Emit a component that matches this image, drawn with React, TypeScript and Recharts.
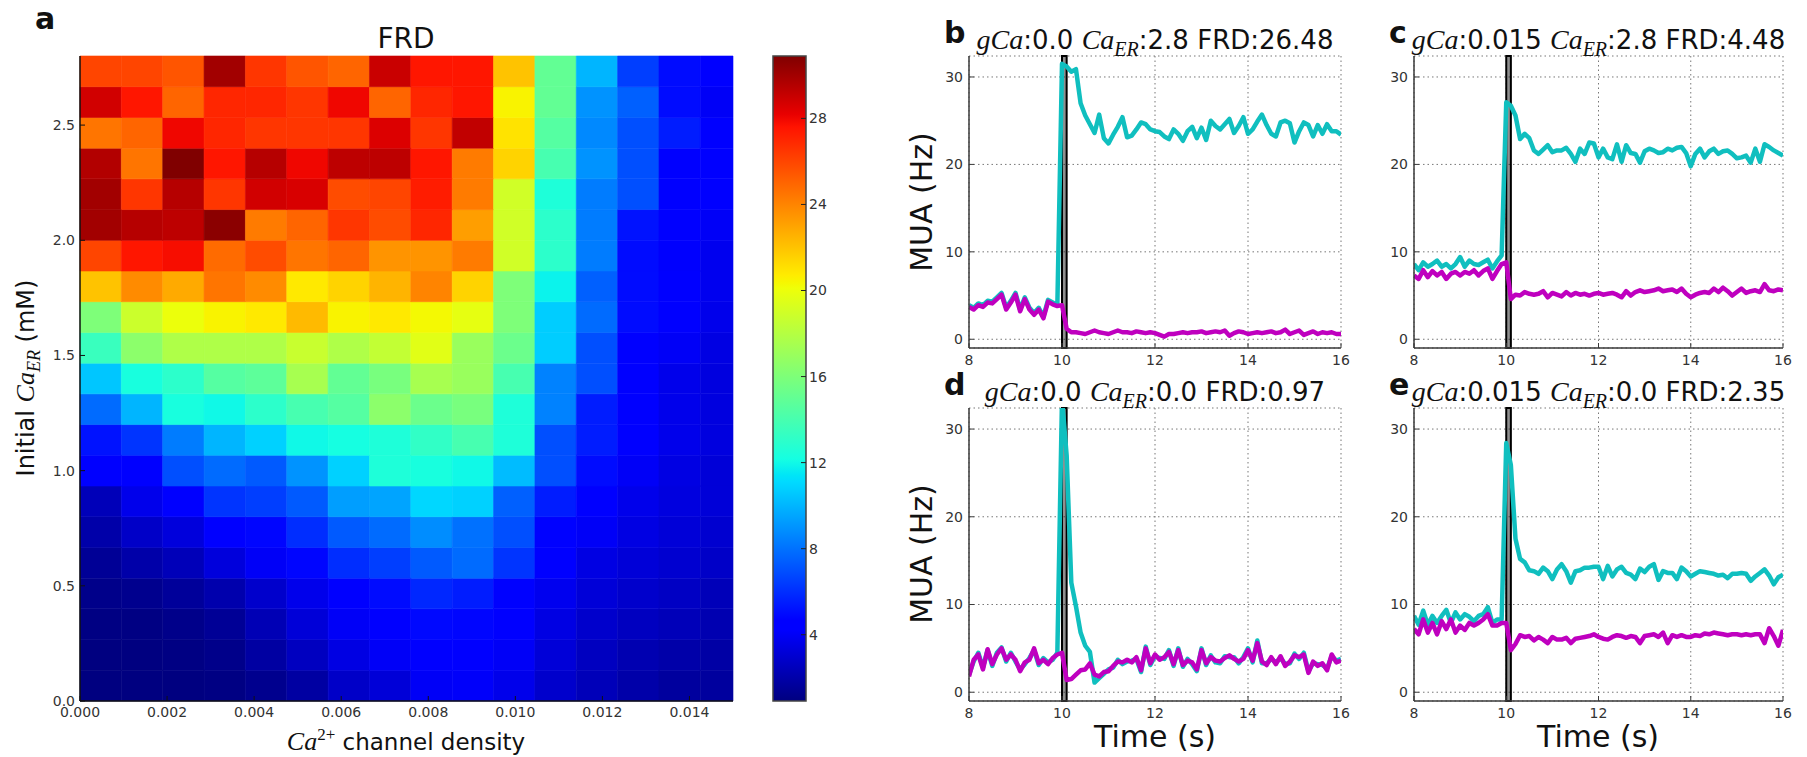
import React from 'react';
import {
  ComposedChart,
  LineChart,
  Line,
  XAxis,
  YAxis,
  CartesianGrid,
  ReferenceArea,
} from 'recharts';

// FRD heat map: one row per initial Ca_ER step (bottom = 0 mM, top = 2.8 mM),
// one column per Ca2+ channel density step (0 .. 0.015)
const FRD_ROWS: number[][] = [
  [0.9, 0.9, 0.9, 1.0, 1.3, 1.8, 2.8, 3.2, 4.0, 4.1, 3.7, 2.9, 2.4, 2.0, 1.7, 1.7],
  [0.9, 0.9, 1.0, 1.2, 1.8, 2.6, 3.5, 4.0, 4.3, 4.3, 4.0, 3.2, 2.6, 2.2, 2.0, 1.9],
  [1.0, 1.0, 1.2, 1.5, 2.3, 3.2, 4.0, 4.5, 4.9, 4.8, 4.3, 3.5, 2.9, 2.6, 2.4, 2.2],
  [1.2, 1.3, 1.6, 2.1, 2.9, 3.7, 4.3, 5.0, 5.8, 5.5, 4.7, 3.8, 3.2, 2.9, 2.7, 2.4],
  [1.5, 2.0, 2.4, 3.3, 4.0, 4.8, 6.0, 6.5, 7.3, 7.8, 6.2, 4.3, 3.5, 3.2, 3.0, 2.8],
  [2.0, 2.8, 3.3, 4.3, 4.8, 6.0, 7.3, 7.8, 8.8, 8.0, 7.0, 4.7, 4.0, 3.5, 3.2, 3.0],
  [2.4, 3.7, 4.5, 6.2, 6.5, 7.3, 9.3, 9.5, 11.0, 10.8, 7.5, 5.5, 4.5, 3.7, 3.4, 3.2],
  [4.3, 4.5, 7.0, 7.8, 7.3, 9.0, 10.8, 12.5, 12.3, 12.0, 10.2, 7.0, 5.0, 4.0, 3.5, 3.2],
  [5.2, 6.2, 8.3, 10.0, 10.8, 12.0, 12.2, 12.5, 13.2, 14.0, 12.5, 7.0, 5.5, 4.3, 3.7, 3.4],
  [7.8, 10.0, 12.3, 12.0, 13.0, 14.0, 14.5, 16.5, 15.3, 15.8, 12.5, 8.5, 5.5, 4.3, 3.7, 3.4],
  [10.5, 12.3, 13.0, 14.5, 14.8, 17.5, 15.0, 15.8, 17.5, 17.0, 14.0, 8.5, 7.0, 4.3, 3.7, 3.4],
  [13.5, 16.5, 17.8, 17.8, 17.8, 18.7, 17.8, 18.5, 19.6, 17.0, 15.3, 10.7, 7.0, 4.3, 4.0, 3.5],
  [16.0, 18.8, 20.0, 20.5, 20.8, 22.3, 20.5, 20.8, 20.3, 19.8, 16.0, 10.7, 7.8, 5.0, 4.3, 3.7],
  [22.0, 23.8, 22.8, 24.5, 23.8, 20.8, 21.5, 22.5, 24.0, 21.5, 16.0, 11.8, 7.5, 5.0, 4.3, 3.8],
  [26.0, 27.5, 27.8, 24.8, 25.8, 24.5, 25.0, 23.5, 23.5, 24.3, 19.0, 13.0, 8.3, 5.0, 4.2, 3.8],
  [30.0, 29.5, 29.3, 30.6, 24.3, 25.0, 26.5, 25.8, 27.0, 23.2, 19.0, 13.0, 8.3, 5.2, 4.3, 4.0],
  [30.0, 26.5, 29.5, 26.5, 28.8, 28.6, 25.8, 26.0, 27.3, 24.3, 19.0, 12.5, 8.3, 7.0, 4.3, 4.3],
  [29.6, 24.5, 30.9, 27.5, 29.5, 28.0, 29.3, 29.3, 27.5, 24.3, 21.5, 14.0, 9.0, 7.0, 4.3, 4.3],
  [24.5, 25.0, 28.0, 27.0, 26.5, 26.5, 26.5, 28.5, 26.5, 29.2, 21.0, 14.5, 8.7, 7.0, 5.5, 4.3],
  [28.8, 27.5, 25.0, 27.0, 27.0, 26.5, 28.0, 25.0, 27.0, 27.5, 20.5, 15.0, 9.0, 7.5, 5.0, 4.0],
  [26.0, 26.0, 25.5, 30.0, 26.5, 25.5, 25.0, 29.0, 27.5, 27.5, 22.0, 15.0, 10.0, 6.5, 5.0, 4.3],
];

const GCA_TICKS = [0, 0.002, 0.004, 0.006, 0.008, 0.01, 0.012, 0.014];
const CAER_TICKS = [0, 0.5, 1.0, 1.5, 2.0, 2.5];
const CBAR_TICKS = [4, 8, 12, 16, 20, 24, 28];
const FRD_MIN = 0.92;
const FRD_MAX = 30.9;
const GCA_MAX = 0.015;
const CAER_MAX = 2.8;

// MUA traces, sampled every 0.1 s from 8 to 16 s
const TIME = [
  8.0, 8.1, 8.2, 8.3, 8.4, 8.5, 8.6, 8.7, 8.8, 8.9,
  9.0, 9.1, 9.2, 9.3, 9.4, 9.5, 9.6, 9.7, 9.8, 9.9,
  10.0, 10.1, 10.2, 10.3, 10.4, 10.5, 10.6, 10.7, 10.8, 10.9,
  11.0, 11.1, 11.2, 11.3, 11.4, 11.5, 11.6, 11.7, 11.8, 11.9,
  12.0, 12.1, 12.2, 12.3, 12.4, 12.5, 12.6, 12.7, 12.8, 12.9,
  13.0, 13.1, 13.2, 13.3, 13.4, 13.5, 13.6, 13.7, 13.8, 13.9,
  14.0, 14.1, 14.2, 14.3, 14.4, 14.5, 14.6, 14.7, 14.8, 14.9,
  15.0, 15.1, 15.2, 15.3, 15.4, 15.5, 15.6, 15.7, 15.8, 15.9,
  16.0,
];

const B_CYAN = [
  3.9, 3.6, 4.1, 3.9, 4.4, 4.3, 4.8, 5.3, 3.6, 4.4,
  5.3, 3.4, 4.8, 3.6, 3.0, 3.6, 2.6, 4.5, 4.2, 3.9,
  31.5, 31.2, 30.6, 30.9, 27.0, 25.6, 24.6, 23.6, 25.7, 23.0,
  22.4, 23.4, 24.3, 25.4, 23.1, 23.3, 24.0, 24.8, 24.6, 24.0,
  23.8, 23.7, 23.2, 22.9, 24.0, 23.5, 22.7, 23.8, 24.3, 23.0,
  24.2, 22.8, 25.0, 24.4, 24.0, 24.6, 25.2, 23.6, 24.4, 25.4,
  23.5, 24.0, 24.9, 25.7, 24.5, 23.5, 23.2, 24.8, 25.0, 24.7,
  22.5, 23.8, 24.8, 24.5, 23.2, 24.5, 23.5, 24.6, 23.8, 23.8,
  23.4,
];
const B_MAGENTA = [
  3.7, 3.4, 3.9, 3.7, 4.2, 4.1, 4.6, 5.1, 3.4, 4.2,
  5.1, 3.2, 4.6, 3.4, 2.8, 3.4, 2.4, 4.3, 4.0, 3.8,
  3.9, 1.2, 0.8, 0.8, 0.7, 0.6, 0.8, 1.0, 0.8, 0.7,
  0.6, 0.8, 1.0, 0.8, 0.8, 0.7, 0.9, 0.8, 0.7, 0.8,
  0.7, 0.5, 0.3, 0.6, 0.6, 0.7, 0.8, 0.7, 0.8, 0.8,
  0.9, 0.7, 0.8, 0.9, 0.8, 1.0, 0.4, 0.7, 0.9, 0.8,
  0.6, 0.7, 0.8, 0.7, 0.8, 0.9, 0.7, 0.8, 1.1, 0.6,
  0.8, 1.0, 0.5, 0.7, 0.9, 0.6, 0.8, 0.7, 0.8, 0.6,
  0.6,
];

const C_CYAN = [
  8.6, 7.9, 8.8, 8.3, 8.6, 9.0, 8.3, 8.6, 8.1, 8.6,
  9.4, 8.3, 9.0, 8.6, 8.5, 8.8, 9.1, 8.1, 8.9, 9.6,
  27.1, 26.7, 25.6, 22.9, 23.5, 23.0, 21.6, 21.2, 21.7, 22.2,
  21.4, 21.6, 21.6, 21.9, 21.2, 20.3, 21.8, 21.2, 22.5, 22.4,
  20.8, 21.8, 20.8, 20.6, 22.3, 20.3, 22.2, 21.3, 21.2, 20.2,
  21.5, 21.8, 21.6, 21.3, 21.4, 21.8, 21.6, 21.9, 22.0, 21.3,
  19.8, 21.2, 21.8, 20.8, 21.5, 21.8, 21.2, 21.5, 21.6, 21.2,
  20.7, 20.8, 21.0, 20.2, 21.8, 20.3, 22.3, 22.0, 21.6, 21.3,
  21.0,
];
const C_MAGENTA = [
  7.3, 6.9, 7.9, 7.1, 7.8, 7.3, 7.7, 6.9, 7.5, 7.7,
  7.3, 7.7, 7.5, 7.9, 7.3, 7.8, 8.1, 6.9, 7.8, 8.6,
  8.8, 4.6, 5.1, 5.0, 5.4, 5.2, 5.1, 5.2, 5.5, 4.8,
  5.3, 5.1, 4.9, 5.4, 5.0, 5.3, 5.1, 5.2, 5.0, 5.2,
  5.3, 5.1, 5.2, 5.3, 5.1, 4.8, 5.5, 5.0, 5.4, 5.6,
  5.4, 5.5, 5.6, 5.8, 5.5, 5.6, 5.7, 5.4, 5.8, 5.2,
  4.8, 5.1, 5.3, 5.4, 5.3, 5.8, 5.4, 5.9, 5.5, 5.0,
  5.4, 5.8, 5.3, 5.5, 5.6, 5.4, 6.3, 5.6, 5.5, 5.7,
  5.6,
];

const D_CYAN = [
  2.0, 3.5, 4.5, 2.8, 4.8, 3.0, 4.5, 5.1, 3.5, 4.5,
  3.5, 2.6, 3.2, 3.9, 4.8, 3.1, 3.9, 3.4, 3.7, 4.5,
  33.5, 27.0, 12.5, 9.8, 6.8, 5.3, 4.6, 1.1, 1.6, 2.1,
  2.6, 2.8, 3.7, 3.2, 3.5, 3.6, 3.8, 2.3, 5.2, 3.1,
  4.1, 3.9, 3.8, 4.8, 3.0, 5.0, 2.9, 3.8, 3.2, 2.4,
  5.0, 3.1, 4.2, 3.4, 3.3, 4.1, 4.0, 4.0, 3.3, 4.0,
  5.0, 3.4, 5.9, 3.3, 3.3, 3.8, 3.4, 3.9, 3.2, 3.3,
  4.4, 3.8, 4.5, 2.4, 3.3, 3.2, 3.1, 2.7, 4.1, 3.6,
  3.8,
];
const D_MAGENTA = [
  1.8, 3.7, 4.3, 2.6, 4.9, 3.2, 4.3, 5.0, 3.7, 4.3,
  3.7, 2.4, 3.4, 3.7, 5.0, 3.3, 3.7, 3.2, 3.9, 4.3,
  4.5, 1.4, 1.5, 2.0, 2.5, 2.6, 3.3, 2.0, 1.8, 2.3,
  2.4, 3.0, 3.5, 3.4, 3.7, 3.4, 4.0, 2.5, 5.0, 3.3,
  4.3, 3.7, 4.0, 4.6, 3.2, 4.8, 3.1, 3.6, 3.4, 2.6,
  4.8, 3.3, 4.0, 3.6, 3.5, 3.9, 4.2, 3.8, 3.5, 3.8,
  4.8, 3.6, 5.6, 3.5, 3.1, 4.0, 3.2, 4.1, 3.0, 3.5,
  4.2, 4.0, 4.3, 2.2, 3.5, 3.0, 3.3, 2.5, 4.3, 3.4,
  3.6,
];

const E_CYAN = [
  8.7, 7.7, 9.3, 7.7, 8.7, 7.9, 8.7, 9.4, 7.9, 9.1,
  8.3, 8.9, 8.6, 8.1, 8.7, 8.9, 9.7, 7.9, 8.3, 8.3,
  28.4, 25.9, 17.5, 15.2, 14.8, 13.9, 13.8, 13.5, 14.2, 13.8,
  12.9, 14.0, 14.6, 13.8, 12.5, 13.8, 13.9, 14.2, 14.2, 14.3,
  14.3, 12.9, 14.4, 13.2, 14.0, 14.3, 13.6, 13.4, 12.9, 14.1,
  13.7, 14.3, 14.6, 12.8, 13.8, 13.6, 13.6, 12.9, 14.2, 13.8,
  13.2, 13.5, 13.8, 13.7, 13.6, 13.5, 13.3, 13.4, 13.0, 13.5,
  13.5, 13.6, 13.5, 12.7, 13.2, 13.6, 14.0, 13.3, 12.3, 13.1,
  13.4,
];
const E_MAGENTA = [
  7.2, 6.6, 8.3, 6.8, 7.9, 6.6, 8.1, 7.2, 8.3, 6.8,
  7.6, 7.1, 7.9, 7.6, 7.9, 8.3, 8.9, 7.6, 7.6, 7.9,
  7.9, 4.8, 5.5, 6.5, 6.3, 6.4, 5.9, 6.3, 6.0, 5.6,
  6.3, 6.0, 6.0, 6.2, 5.6, 6.1, 6.2, 6.3, 6.4, 6.6,
  6.3, 6.1, 6.0, 6.3, 6.5, 6.4, 6.2, 6.4, 6.3, 5.6,
  6.4, 6.5, 6.6, 6.3, 6.8, 5.6, 6.5, 6.3, 6.5, 6.3,
  6.3, 6.5, 6.4, 6.7, 6.6, 6.8, 6.7, 6.6, 6.5, 6.6,
  6.6, 6.5, 6.6, 6.5, 6.6, 6.6, 5.6, 7.3, 6.4, 5.3,
  7.1,
];

const TIME_TICKS = [8, 10, 12, 14, 16];
const MUA_TICKS = [0, 10, 20, 30];
const STIM_START = 10.0;
const STIM_END = 10.1;

const PANELS = [
  { id: 'b', gca: '0.0', caer: '2.8', frd: '26.48', cyan: B_CYAN, magenta: B_MAGENTA },
  { id: 'c', gca: '0.015', caer: '2.8', frd: '4.48', cyan: C_CYAN, magenta: C_MAGENTA },
  { id: 'd', gca: '0.0', caer: '0.0', frd: '0.97', cyan: D_CYAN, magenta: D_MAGENTA },
  { id: 'e', gca: '0.015', caer: '0.0', frd: '2.35', cyan: E_CYAN, magenta: E_MAGENTA },
];

// plot boxes of the four trace panels (left, top, width, height)
const PANEL_BOX: Record<string, [number, number, number, number]> = {
  b: [969, 56, 372, 292],
  c: [1414, 56, 369, 292],
  d: [969, 408, 372, 293],
  e: [1414, 408, 369, 293],
};

const SANS = "'DejaVu Sans', 'Liberation Sans', sans-serif";
const SERIF = "'Liberation Serif', 'DejaVu Serif', serif";
const CYAN = '#10bfbf';
const MAGENTA = '#bf00bf';
const FRAME = '#3a3a3a';

// matplotlib "jet"
const interp = (t: number, xs: number[], ys: number[]) => {
  for (let i = 1; i < xs.length; i++) {
    if (t <= xs[i]) {
      const f = (t - xs[i - 1]) / (xs[i] - xs[i - 1]);
      return ys[i - 1] + f * (ys[i] - ys[i - 1]);
    }
  }
  return ys[ys.length - 1];
};
const jet = (t: number) => {
  const u = Math.max(0, Math.min(1, t));
  const r = interp(u, [0, 0.35, 0.66, 0.89, 1], [0, 0, 1, 1, 0.5]);
  const g = interp(u, [0, 0.125, 0.375, 0.64, 0.91, 1], [0, 0, 1, 1, 0, 0]);
  const b = interp(u, [0, 0.11, 0.34, 0.65, 1], [0.5, 1, 1, 0, 0]);
  const h = (v: number) => Math.round(v * 255).toString(16).padStart(2, '0');
  return `#${h(r)}${h(g)}${h(b)}`;
};
const frdColor = (v: number) => jet((v - FRD_MIN) / (FRD_MAX - FRD_MIN));
const JET_STOPS = [0, 0.11, 0.125, 0.2, 0.34, 0.35, 0.375, 0.5, 0.64, 0.65, 0.66, 0.75, 0.89, 0.91, 1];

const CELL_W = 0.00095;
const CELL_H = CAER_MAX / FRD_ROWS.length;

const tickStyle = { fontSize: 14, fill: '#333', fontFamily: SANS };

const Heatmap: React.FC = () => (
  <div style={{ position: 'absolute', left: 0, top: 0 }}>
    <ComposedChart width={760} height={757} margin={{ top: 56, right: 27, bottom: 26, left: 0 }}>
      <XAxis
        type="number"
        dataKey="x"
        domain={[0, GCA_MAX]}
        ticks={GCA_TICKS}
        tickFormatter={(v: number) => v.toFixed(3)}
        tick={tickStyle}
        tickSize={-5}
        tickMargin={11}
        height={30}
        stroke="#111"
        axisLine={{ stroke: '#111', strokeWidth: 1.5 }}
        allowDataOverflow
      />
      <XAxis
        xAxisId="top"
        orientation="top"
        type="number"
        domain={[0, GCA_MAX]}
        ticks={GCA_TICKS}
        tick={false}
        tickSize={-5}
        height={0}
        stroke="#111"
        axisLine={{ stroke: '#111', strokeWidth: 1.5 }}
        allowDataOverflow
      />
      <YAxis
        type="number"
        dataKey="y"
        domain={[0, CAER_MAX]}
        ticks={CAER_TICKS}
        tickFormatter={(v: number) => v.toFixed(1)}
        tick={tickStyle}
        tickSize={-5}
        tickMargin={10}
        width={80}
        stroke="#111"
        axisLine={{ stroke: '#111', strokeWidth: 1.5 }}
        allowDataOverflow
      />
      <YAxis
        yAxisId="right"
        orientation="right"
        type="number"
        domain={[0, CAER_MAX]}
        ticks={CAER_TICKS}
        tick={false}
        tickSize={-5}
        width={0}
        stroke="#111"
        axisLine={{ stroke: '#111', strokeWidth: 1.5 }}
        allowDataOverflow
      />
      {FRD_ROWS.flatMap((row, r) =>
        row.map((v, c) => {
          const color = frdColor(v);
          return (
            <ReferenceArea
              key={`${r}-${c}`}
              x1={c * CELL_W}
              x2={Math.min((c + 1) * CELL_W, GCA_MAX)}
              y1={r * CELL_H}
              y2={Math.min((r + 1) * CELL_H, CAER_MAX)}
              fill={color}
              fillOpacity={1}
              stroke={color}
              strokeWidth={0.6}
              ifOverflow="visible"
            />
          );
        }),
      )}
    </ComposedChart>
  </div>
);

// gradient lives in its own svg so the colour bar area can reference it
const JetDefs: React.FC = () => (
  <svg width={0} height={0} style={{ position: 'absolute' }}>
    <defs>
      <linearGradient id="jetGrad" x1="0" y1="1" x2="0" y2="0">
        {JET_STOPS.map((s) => (
          <stop key={s} offset={s} stopColor={jet(s)} />
        ))}
      </linearGradient>
    </defs>
  </svg>
);

const Colorbar: React.FC = () => (
  <div style={{ position: 'absolute', left: 763, top: 0 }}>
    <ComposedChart width={80} height={757} margin={{ top: 56, right: 0, bottom: 26, left: 10 }}>
      <XAxis
        type="number"
        dataKey="x"
        domain={[0, 1]}
        tick={false}
        tickLine={false}
        axisLine={false}
        height={30}
        allowDataOverflow
      />
      <YAxis
        orientation="right"
        type="number"
        dataKey="y"
        domain={[FRD_MIN, FRD_MAX]}
        ticks={CBAR_TICKS}
        tick={tickStyle}
        tickSize={-5}
        tickMargin={8}
        width={37}
        axisLine={false}
        stroke="#222"
        allowDataOverflow
      />
      <ReferenceArea
        x1={0}
        x2={1}
        y1={FRD_MIN}
        y2={FRD_MAX}
        fill="url(#jetGrad)"
        fillOpacity={1}
        stroke="#444"
        strokeWidth={1.5}
        ifOverflow="visible"
      />
    </ComposedChart>
  </div>
);

const TracePanel: React.FC<{ id: string; cyan: number[]; magenta: number[] }> = ({ id, cyan, magenta }) => {
  const [left, top, w, h] = PANEL_BOX[id];
  const data = TIME.map((t, i) => ({ t, cyan: cyan[i], magenta: magenta[i] }));
  const axisLine = { stroke: FRAME, strokeWidth: 1.5 };
  return (
    <div style={{ position: 'absolute', left: left - 60, top: top - 10 }}>
      <LineChart width={w + 70} height={h + 40} data={data} margin={{ top: 10, right: 10, bottom: 0, left: 0 }}>
        <CartesianGrid stroke="#777" strokeDasharray="1.5 3" strokeWidth={1} />
        <XAxis
          type="number"
          dataKey="t"
          domain={[8, 16]}
          ticks={TIME_TICKS}
          tick={tickStyle}
          tickSize={-5}
          tickMargin={12}
          height={30}
          stroke={FRAME}
          axisLine={axisLine}
          allowDataOverflow
        />
        <XAxis
          xAxisId="top"
          orientation="top"
          type="number"
          dataKey="t"
          domain={[8, 16]}
          ticks={TIME_TICKS}
          tick={false}
          tickSize={-5}
          height={0}
          stroke={FRAME}
          axisLine={axisLine}
          allowDataOverflow
        />
        <YAxis
          type="number"
          domain={[-1, 32.4]}
          ticks={MUA_TICKS}
          tick={tickStyle}
          tickSize={-5}
          tickMargin={11}
          width={60}
          stroke={FRAME}
          axisLine={axisLine}
          allowDataOverflow
        />
        <YAxis
          yAxisId="right"
          orientation="right"
          type="number"
          domain={[-1, 32.4]}
          ticks={MUA_TICKS}
          tick={false}
          tickSize={-5}
          width={0}
          stroke={FRAME}
          axisLine={axisLine}
          allowDataOverflow
        />
        <Line
          type="linear"
          dataKey="cyan"
          stroke={CYAN}
          strokeWidth={4.5}
          strokeLinejoin="round"
          dot={false}
          isAnimationActive={false}
        />
        <Line
          type="linear"
          dataKey="magenta"
          stroke={MAGENTA}
          strokeWidth={4.5}
          strokeLinejoin="round"
          dot={false}
          isAnimationActive={false}
        />
        <ReferenceArea
          x1={STIM_START}
          x2={STIM_END}
          fill="#222"
          fillOpacity={0.5}
          stroke="#000"
          strokeWidth={2}
          ifOverflow="visible"
          isFront
        />
      </LineChart>
    </div>
  );
};

const PanelTitle: React.FC<{ x: number; y: number; gca: string; caer: string; frd: string }> = ({
  x,
  y,
  gca,
  caer,
  frd,
}) => (
  <text x={x} y={y} textAnchor="middle" fontSize={26} fontFamily={SANS} fill="#111">
    <tspan fontFamily={SERIF} fontStyle="italic" fontSize={28}>
      gCa
    </tspan>
    <tspan>:{gca} </tspan>
    <tspan fontFamily={SERIF} fontStyle="italic" fontSize={28}>
      Ca
    </tspan>
    <tspan fontFamily={SERIF} fontStyle="italic" fontSize={20} dy={7}>
      ER
    </tspan>
    <tspan dy={-7}>
      :{caer} FRD:{frd}
    </tspan>
  </text>
);

const Labels: React.FC = () => {
  const letter = { fontSize: 30, fontWeight: 'bold' as const, fontFamily: SANS, fill: '#111' };
  const axisLabel = { fontSize: 30, fontFamily: SANS, fill: '#111' };
  return (
    <svg
      width={1807}
      height={757}
      style={{ position: 'absolute', left: 0, top: 0, pointerEvents: 'none' }}
    >
      <text x={35} y={29} {...letter}>a</text>
      <text x={406} y={48} textAnchor="middle" fontSize={28} fontFamily={SANS} fill="#111">FRD</text>
      <text x={34} y={378} textAnchor="middle" fontSize={24} fontFamily={SANS} fill="#111" transform="rotate(-90 34 378)">
        <tspan>Initial </tspan>
        <tspan fontFamily={SERIF} fontStyle="italic" fontSize={26}>Ca</tspan>
        <tspan fontFamily={SERIF} fontStyle="italic" fontSize={18} dy={6}>ER</tspan>
        <tspan dy={-6}> (mM)</tspan>
      </text>
      <text x={406} y={750} textAnchor="middle" fontSize={23} fontFamily={SANS} fill="#111">
        <tspan fontFamily={SERIF} fontStyle="italic" fontSize={26}>Ca</tspan>
        <tspan fontFamily={SERIF} fontSize={17} dy={-10}>2+</tspan>
        <tspan dy={10}>{'  channel density'}</tspan>
      </text>

      {PANELS.map((p) => {
        const [left, top, w] = PANEL_BOX[p.id];
        const cx = left + w / 2;
        return (
          <g key={p.id}>
            <text x={left - 25} y={top - 13} {...letter}>{p.id}</text>
            <PanelTitle x={cx} y={top - 7} gca={p.gca} caer={p.caer} frd={p.frd} />
          </g>
        );
      })}
      <text x={932} y={202} textAnchor="middle" transform="rotate(-90 932 202)" {...axisLabel}>MUA (Hz)</text>
      <text x={932} y={554} textAnchor="middle" transform="rotate(-90 932 554)" {...axisLabel}>MUA (Hz)</text>
      <text x={1155} y={747} textAnchor="middle" {...axisLabel}>Time (s)</text>
      <text x={1598} y={747} textAnchor="middle" {...axisLabel}>Time (s)</text>
    </svg>
  );
};

const App: React.FC = () => (
  <div
    style={{
      position: 'absolute',
      left: 0,
      top: 0,
      width: 1807,
      height: 757,
      background: '#fff',
      fontFamily: SANS,
      overflow: 'hidden',
    }}
  >
    <JetDefs />
    <Heatmap />
    <Colorbar />
    {PANELS.map((p) => (
      <TracePanel key={p.id} id={p.id} cyan={p.cyan} magenta={p.magenta} />
    ))}
    <Labels />
  </div>
);

export default App;
